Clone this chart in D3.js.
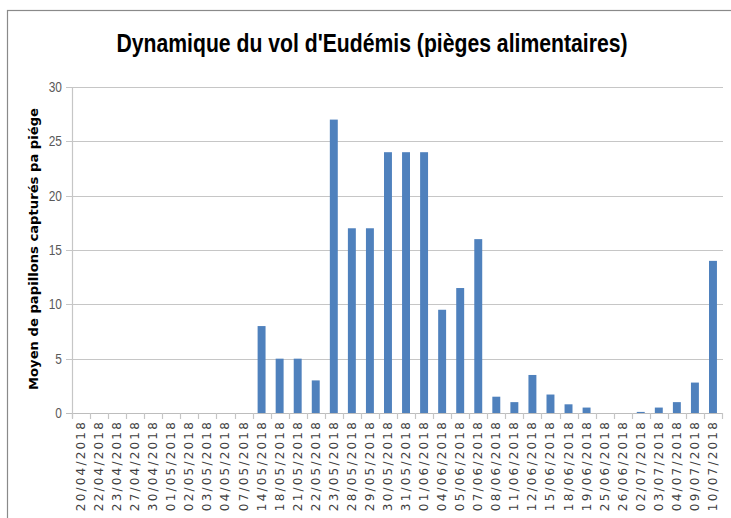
<!DOCTYPE html>
<html>
<head>
<meta charset="utf-8">
<script src="https://cdn.jsdelivr.net/npm/d3@7"></script>
<style>
  body { margin: 0; background: #fff; }
  svg { display: block; }
</style>
</head>
<body>
<div id="chart"></div>
<script>
let width = 731, height = 518;

// data
let dates = ["20/04/2018", "22/04/2018", "23/04/2018", "27/04/2018", "30/04/2018",
    "01/05/2018", "02/05/2018", "03/05/2018", "04/05/2018", "07/05/2018",
    "14/05/2018", "18/05/2018", "21/05/2018", "22/05/2018", "23/05/2018",
    "28/05/2018", "29/05/2018", "30/05/2018", "31/05/2018", "01/06/2018",
    "04/06/2018", "05/06/2018", "07/06/2018", "08/06/2018", "11/06/2018",
    "12/06/2018", "15/06/2018", "18/06/2018", "19/06/2018", "25/06/2018",
    "26/06/2018", "02/07/2018", "03/07/2018", "04/07/2018", "09/07/2018",
    "10/07/2018"];
let moyenne = [0, 0, 0, 0, 0, 0, 0, 0, 0, 0,
    8, 5, 5, 3, 27, 17, 17, 24, 24, 24,
    9.5, 11.5, 16, 1.5, 1, 3.5, 1.7, 0.8, 0.5, 0,
    0, 0.1, 0.5, 1, 2.8, 14];
let yTicks = [0, 5, 10, 15, 20, 25, 30];

let margin = {left: 72, right: 9, top: 87, bottom: 105};

let svg = d3.select("#chart")
    .append("svg")
    .attr("width", width)
    .attr("height", height);

// outer frame of the chart area
svg.append("rect")
    .attr("x", 7.5).attr("y", 10.5)
    .attr("width", 740).attr("height", 530)
    .attr("fill", "white")
    .attr("stroke", "#8a8a8a")
    .attr("stroke-width", 1.2);

let x = d3.scaleBand()
    .domain(dates)
    .range([margin.left, width - margin.right])
    .paddingInner(0.56)
    .paddingOuter(0.28);

let y = d3.scaleLinear()
    .domain([0, 30])
    .range([height - margin.bottom, margin.top]);

// horizontal gridlines (they poke out left of the axis like Excel ticks)
svg.append("g")
    .selectAll("line")
    .data(yTicks)
    .enter()
    .append("line")
    .attr("x1", margin.left - 6)
    .attr("x2", width - margin.right + 1)
    .attr("y1", d => Math.round(y(d)) + 0.5)
    .attr("y2", d => Math.round(y(d)) + 0.5)
    .attr("stroke", d => d == 0 ? "#bdbdbd" : "#c6c6c6")
    .attr("stroke-width", 1.2);

// y tick labels
svg.append("g")
    .selectAll("text")
    .data(yTicks)
    .enter()
    .append("text")
    .attr("x", margin.left - 10)
    .attr("y", d => y(d))
    .attr("dy", "0.35em")
    .attr("text-anchor", "end")
    .attr("font-family", "Liberation Sans, Arial, sans-serif")
    .attr("font-size", 14)
    .attr("fill", "#595959")
    .attr("transform", d => `translate(${(margin.left - 10) * 0.15},0) scale(0.85,1)`)
    .text(d => d);

// vertical axis line
svg.append("line")
    .attr("x1", margin.left + 0.5).attr("x2", margin.left + 0.5)
    .attr("y1", y(30)).attr("y2", y(0) + 5)
    .attr("stroke", "#c6c6c6")
    .attr("stroke-width", 1.2);

// x ticks between categories
let step = x.step();
svg.append("g")
    .selectAll("line")
    .data(d3.range(dates.length + 1))
    .enter()
    .append("line")
    .attr("x1", i => Math.round(margin.left + i * step) + 0.5)
    .attr("x2", i => Math.round(margin.left + i * step) + 0.5)
    .attr("y1", y(0))
    .attr("y2", y(0) + 6)
    .attr("stroke", "#c6c6c6")
    .attr("stroke-width", 1.2);

// bars
svg.append("g")
    .selectAll("rect")
    .data(dates.map((d, i) => ({date: d, val: moyenne[i]})))
    .enter()
    .append("rect")
    .attr("x", d => x(d.date))
    .attr("y", d => y(d.val))
    .attr("width", x.bandwidth())
    .attr("height", d => y(0) - y(d.val))
    .attr("fill", "#4f81bd");

// rotated date labels
svg.append("g")
    .selectAll("text")
    .data(dates)
    .enter()
    .append("text")
    .attr("transform", d => `translate(${x(d) + x.bandwidth() / 2 + 4},${y(0) + 7}) rotate(-90)`)
    .attr("text-anchor", "end")
    .attr("font-family", "DejaVu Sans, sans-serif")
    .attr("font-size", 12)
    .attr("letter-spacing", 2.2)
    .attr("fill", "#404040")
    .text(d => d);

// title (condensed look, like the Calibri original)
svg.append("text")
    .attr("x", 372)
    .attr("y", 52)
    .attr("text-anchor", "middle")
    .attr("font-family", "Liberation Sans, Arial, sans-serif")
    .attr("font-weight", "bold")
    .attr("font-size", 26)
    .attr("textLength", 511)
    .attr("lengthAdjust", "spacingAndGlyphs")
    .attr("fill", "#000")
    .text("Dynamique du vol d'Eudémis (pièges alimentaires)");

// y axis title
svg.append("text")
    .attr("transform", "translate(38,249) rotate(-90)")
    .attr("text-anchor", "middle")
    .attr("font-family", "DejaVu Sans, sans-serif")
    .attr("font-weight", "bold")
    .attr("font-size", 12.5)
    .attr("textLength", 282)
    .attr("lengthAdjust", "spacingAndGlyphs")
    .attr("fill", "#000")
    .text("Moyen de papillons capturés pa piége");
</script>
</body>
</html>
